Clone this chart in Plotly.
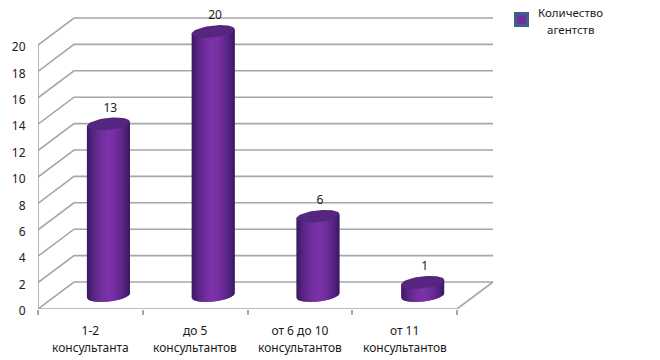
import math
import plotly.graph_objects as go

cat_line1 = ["1-2", "до 5", "от 6 до 10", "от 11"]
cat_line2 = ["консультанта", "консультантов", "консультантов", "консультантов"]
values = [13, 20, 6, 1]
y_ticks = [0, 2, 4, 6, 8, 10, 12, 14, 16, 18, 20]
series_lines = ["Количество", "агентств"]

W, H = 660, 360
L, B = 38, 309
CAT_PX = 104.75
VAL_PX = 13.2
DX = 36 / CAT_PX      # depth in category units
DY = 27 / VAL_PX      # depth in value units
HALF_W = 21.5 / CAT_PX
ELL_B = 6.0 / VAL_PX
TILT = 2.2 / VAL_PX
GRID = "#a6a6a6"
FONT = "Noto Sans"
TEXT = "#1a1a1a"
N = 30


def lerp(c0, c1, t):
    return "rgb(%d,%d,%d)" % tuple(round(a + (b - a) * t) for a, b in zip(c0, c1))


px2x = lambda p: -0.5 + (p - L) / CAT_PX
px2y = lambda p: (B - p) / VAL_PX

fig = go.Figure()

# gridlines: back wall + side wall + floor
gx, gy = [], []
x0 = -0.5
x1 = 3.5
for v in y_ticks:
    gx += [x0, x0 + DX, x1 + DX, None]
    gy += [v, v + DY, v + DY, None]
gx += [x0, x0, None, x0, x1, x1 + DX, None]
gy += [y_ticks[0], y_ticks[-1], None, 0, 0, DY, None]
fig.add_trace(go.Scatter(x=gx, y=gy, mode="lines", line=dict(color=GRID, width=1.6),
                         hoverinfo="skip", showlegend=False, cliponaxis=False))

# cylinders
for i, v in enumerate(values):
    cx = i + DX / 2
    base = DY / 2
    top = v + DY / 2
    for s in range(N):
        u0 = -1 + 2 * s / N
        u1 = min(1, u0 + 4 / N)
        us = [u0 + (u1 - u0) * k / 4 for k in range(5)]
        xs = [cx + HALF_W * u for u in us]
        ybot = [base + TILT * u - ELL_B * math.sqrt(max(0, 1 - u * u)) for u in us]
        ytop = [top + TILT * u for u in us]
        um = u0 + 1 / N
        t = max(0, 1 - abs(um) ** 1.7)
        col = lerp((58, 24, 98), (122, 50, 168), t)
        fig.add_trace(go.Scatter(x=xs + xs[::-1], y=ybot + ytop[::-1], mode="lines", fill="toself",
                                 fillcolor=col, line=dict(width=0), hoverinfo="skip", showlegend=False))
    ex, ey = [], []
    for k in range(61):
        a = 2 * math.pi * k / 60
        ex.append(cx + HALF_W * math.cos(a))
        ey.append(top + TILT * math.cos(a) + ELL_B * math.sin(a))
    fig.add_trace(go.Scatter(x=ex, y=ey, mode="lines", fill="toself", fillcolor="#54267f",
                             line=dict(width=0), hoverinfo="skip", showlegend=False))

# data labels
fig.add_trace(go.Scatter(x=[i + DX / 2 + 2 / CAT_PX for i in range(len(values))],
                         y=[v + DY / 2 + 1.15 for v in values],
                         mode="text", text=[str(v) for v in values], textposition="middle center",
                         textfont=dict(family=FONT, size=12, color=TEXT),
                         hoverinfo="skip", showlegend=False))

# legend key and text
fig.add_trace(go.Scatter(x=[px2x(521.5)], y=[px2y(19.5)], mode="markers",
                         marker=dict(symbol="square", size=12, color="#7030a0",
                                     line=dict(color="#3f5f8f", width=3)),
                         hoverinfo="skip", showlegend=False))
for s, yp in zip(series_lines, [12, 29]):
    fig.add_annotation(x=px2x(570.5), y=px2y(yp), xref="x", yref="y", text=s, showarrow=False,
                       xanchor="center", yanchor="middle", align="center",
                       font=dict(family=FONT, size=11.5, color=TEXT))

# second row of category labels
for i, s in enumerate(cat_line2):
    fig.add_annotation(x=i, y=(B - 347) / B, xref="paper" if False else "x", yref="paper", text=s,
                       showarrow=False, xanchor="center", yanchor="middle",
                       font=dict(family=FONT, size=12, color=TEXT))

fig.update_xaxes(range=[px2x(L), px2x(W)], tickmode="array", tickvals=list(range(len(cat_line1))),
                 ticktext=cat_line1, showgrid=False, zeroline=False, showline=False,
                 ticks="outside", ticklen=11, tickcolor="rgba(0,0,0,0)", automargin=False,
                 minor=dict(tickmode="array", tickvals=[x0 + i for i in range(len(cat_line1) + 1)],
                            ticks="outside", ticklen=5, tickcolor=GRID, tickwidth=1.6, showgrid=False),
                 tickfont=dict(family=FONT, size=12, color=TEXT), fixedrange=True)
fig.update_yaxes(range=[0, px2y(0)], tickmode="array", tickvals=y_ticks,
                 showgrid=False, zeroline=False, showline=False, ticks="outside", ticklen=9,
                 tickcolor="rgba(0,0,0,0)", automargin=False, ticklabelshift=2,
                 tickfont=dict(family=FONT, size=12, color=TEXT), fixedrange=True)
fig.update_layout(width=W, height=H, autosize=False, showlegend=False,
                  margin=dict(l=L, r=0, t=0, b=H - B, pad=0),
                  paper_bgcolor="white", plot_bgcolor="white")
fig.write_html("out.html", config=dict(displayModeBar=False),
               post_script="document.body.style.margin='0';")
